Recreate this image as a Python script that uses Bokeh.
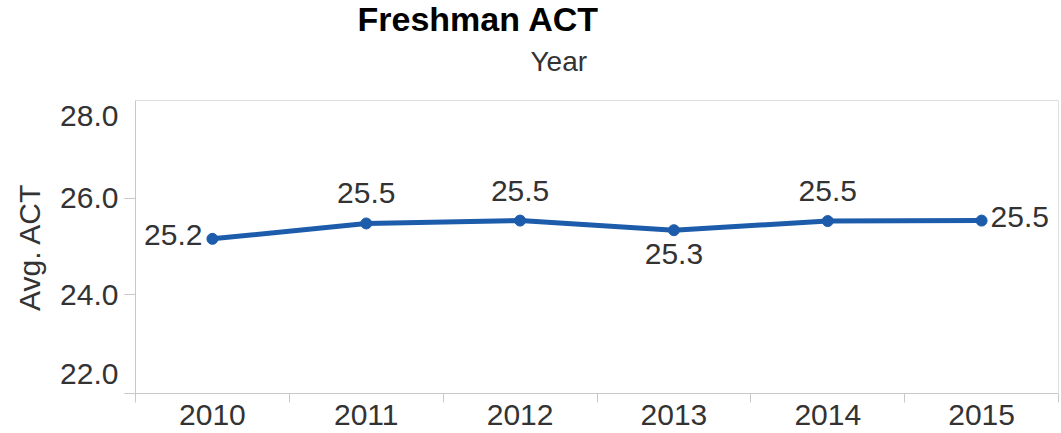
from bokeh.plotting import figure
from bokeh.models import Range1d, FixedTicker, Title, ColumnDataSource
from bokeh.core.properties import value
from bokeh.embed import file_html
from bokeh.resources import INLINE

# ---- data ----
years = ["2010", "2011", "2012", "2013", "2014", "2015"]
avg_act = [25.16, 25.48, 25.54, 25.34, 25.53, 25.54]
y_ticks = [22.0, 24.0, 26.0, 28.0]
label_side = ["left", "above", "above", "below", "above", "right"]
title_text = "Freshman ACT"
x_title = "Year"
y_title = "Avg. ACT"

FONT = "Liberation Sans"
Y_MIN, Y_MAX = 21.94, 28.04
LINE_COLOR = "#1c5caa"
TEXT_COLOR = "#333333"
AXIS_COLOR = "#c8c8c8"

xs = [i + 0.5 for i in range(len(years))]

p = figure(width=1061, height=433, output_backend="svg", toolbar_location=None,
           x_range=Range1d(0, len(years)), y_range=Range1d(Y_MIN, Y_MAX),
           min_border_left=135, min_border_right=3, min_border_top=100,
           min_border_bottom=40, title=None)

p.xgrid.visible = False
p.ygrid.visible = False
p.outline_line_color = "#dedede"
p.background_fill_color = "white"
p.border_fill_color = "white"

# x axis: labels at band centres, ticks at band boundaries
xa = p.xaxis[0]
xa.ticker = FixedTicker(ticks=xs, minor_ticks=list(range(len(years) + 1)))
xa.major_label_overrides = {x: y for x, y in zip(xs, years)}
xa.major_tick_out = 0
xa.major_tick_in = 0
xa.minor_tick_out = 9
xa.minor_tick_in = 0
xa.minor_tick_line_color = AXIS_COLOR
xa.axis_line_color = AXIS_COLOR
xa.major_label_standoff = 2
xa.major_label_text_font = FONT
xa.major_label_text_font_size = "30px"
xa.major_label_text_color = TEXT_COLOR

# y axis: end labels nudged inside the pane, as in the source
nudge = 0.34
ylab_pos = []
for t in y_ticks:
    if t == min(y_ticks):
        ylab_pos.append(round(t + nudge, 3))
    elif t == max(y_ticks):
        ylab_pos.append(round(t - nudge + 0.06, 3))
    else:
        ylab_pos.append(t)
inner_ticks = [t for t in y_ticks if t not in (min(y_ticks), max(y_ticks))]
ya = p.yaxis[0]
ya.ticker = FixedTicker(ticks=ylab_pos, minor_ticks=[Y_MIN] + inner_ticks)
ya.major_label_overrides = {pos: f"{t:.1f}" for pos, t in zip(ylab_pos, y_ticks)}
ya.major_tick_out = 0
ya.major_tick_in = 0
ya.minor_tick_out = 11
ya.minor_tick_in = 0
ya.minor_tick_line_color = AXIS_COLOR
ya.axis_line_color = AXIS_COLOR
ya.major_label_standoff = 6
ya.major_label_text_font = FONT
ya.major_label_text_font_size = "30px"
ya.major_label_text_color = TEXT_COLOR
ya.axis_label = y_title
ya.axis_label_text_font = FONT
ya.axis_label_text_font_size = "30px"
ya.axis_label_text_font_style = "normal"
ya.axis_label_text_color = TEXT_COLOR
ya.axis_label_standoff = 11

# line + markers
p.line(xs, avg_act, line_color=LINE_COLOR, line_width=5)
p.scatter(xs, avg_act, size=11, fill_color=LINE_COLOR, line_color=LINE_COLOR)

# data labels
styles = {
    "left": ("right", -10, -4),
    "above": ("center", 0, -30),
    "below": ("center", 0, 24),
    "right": ("left", 9, -4),
}
for side, (align, dx, dy) in styles.items():
    idx = [i for i, s in enumerate(label_side) if s == side]
    if not idx:
        continue
    src = ColumnDataSource(dict(
        x=[xs[i] for i in idx],
        y=[avg_act[i] for i in idx],
        t=[f"{avg_act[i]:.1f}" for i in idx],
    ))
    p.text(x="x", y="y", text="t", source=src, text_align=align,
           text_baseline="alphabetic", x_offset=dx, y_offset=dy,
           text_font=value(FONT), text_font_size="30px", text_color=TEXT_COLOR)

# titles
p.add_layout(Title(text=x_title, align="left", offset=395, standoff=47,
                   text_font=FONT, text_font_size="28px", text_font_style="normal",
                   text_color=TEXT_COLOR), "above")
p.add_layout(Title(text=title_text, align="left", offset=222, standoff=-35,
                   text_font=FONT, text_font_size="34px", text_font_style="bold",
                   text_color="#000000"), "above")
# small empty spacer above the main title
p.add_layout(Title(text=" ", standoff=5, text_font_size="1px"), "above")

open("out.html", "w").write(file_html(p, INLINE))
